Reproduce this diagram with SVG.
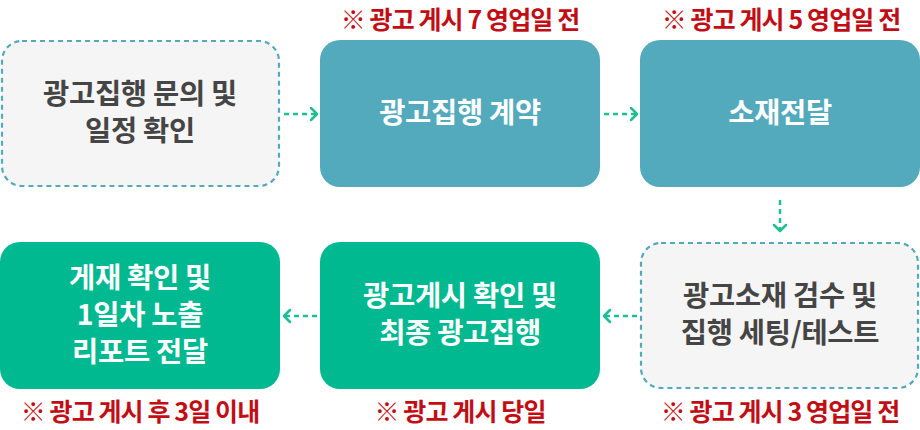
<svg xmlns="http://www.w3.org/2000/svg" width="920" height="430" viewBox="0 0 920 430">
<defs>
<style>
.box-dash{fill:#f5f5f5;stroke:#52aabc;stroke-width:2.2;stroke-dasharray:5 4}
.box-teal{fill:#52aabc}
.box-green{fill:#00b990}
.t{font-family:"Noto Sans CJK KR","Noto Sans",sans-serif;font-weight:700;font-size:28.5px;text-anchor:middle;letter-spacing:-0.3px}
.dark{fill:#454545}
.white{fill:#ffffff}
.note{font-family:"Noto Sans CJK KR","Noto Sans",sans-serif;font-weight:700;font-size:25px;fill:#c30d15;text-anchor:middle;letter-spacing:-0.9px}
.conn{fill:none;stroke:#1dbf94;stroke-width:2.5;stroke-dasharray:5 4}
.head{fill:none;stroke:#1dbf94;stroke-width:2.5;stroke-linecap:round;stroke-linejoin:round}
</style>
</defs>
<g id="n1">
<rect class="box-dash" x="2" y="41" width="277" height="145" rx="20"/>
<text class="t dark" x="140" y="104">광고집행 문의 및</text>
<text class="t dark" x="140" y="141">일정 확인</text>
</g>
<g id="n2">
<rect class="box-teal" x="320" y="40" width="280" height="147" rx="20"/>
<text class="t white" x="460" y="123">광고집행 계약</text>
</g>
<g id="n3">
<rect class="box-teal" x="640" y="40" width="280" height="147" rx="20"/>
<text class="t white" x="780" y="123">소재전달</text>
</g>
<g id="n4">
<rect class="box-dash" x="641" y="243" width="277" height="145" rx="20"/>
<text class="t dark" x="780" y="306">광고소재 검수 및</text>
<text class="t dark" x="780" y="343">집행 세팅/테스트</text>
</g>
<g id="n5">
<rect class="box-green" x="320" y="242" width="280" height="147" rx="20"/>
<text class="t white" x="460" y="306">광고게시 확인 및</text>
<text class="t white" x="460" y="343">최종 광고집행</text>
</g>
<g id="n6">
<rect class="box-green" x="0" y="242" width="280" height="147" rx="20"/>
<text class="t white" x="140" y="288">게재 확인 및</text>
<text class="t white" x="140" y="325">1일차 노출</text>
<text class="t white" x="140" y="362">리포트 전달</text>
</g>
<g id="notes">
<text class="note" x="460" y="29">※ 광고 게시 7 영업일 전</text>
<text class="note" x="781" y="29">※ 광고 게시 5 영업일 전</text>
<text class="note" x="140" y="421">※ 광고 게시 후 3일 이내</text>
<text class="note" x="460" y="421">※ 광고 게시 당일</text>
<text class="note" x="780" y="421">※ 광고 게시 3 영업일 전</text>
</g>
<g id="connectors">
<line class="conn" x1="284" y1="114" x2="316" y2="114"/>
<polyline class="head" points="311,108 317,114 311,120"/>
<line class="conn" x1="604" y1="114" x2="636" y2="114"/>
<polyline class="head" points="631,108 637,114 631,120"/>
<line class="conn" x1="780" y1="200" x2="780" y2="230"/>
<polyline class="head" points="774,225 780,231 786,225"/>
<line class="conn" x1="637" y1="316" x2="605" y2="316"/>
<polyline class="head" points="610,310 604,316 610,322"/>
<line class="conn" x1="317" y1="316" x2="285" y2="316"/>
<polyline class="head" points="290,310 284,316 290,322"/>
</g>
</svg>
